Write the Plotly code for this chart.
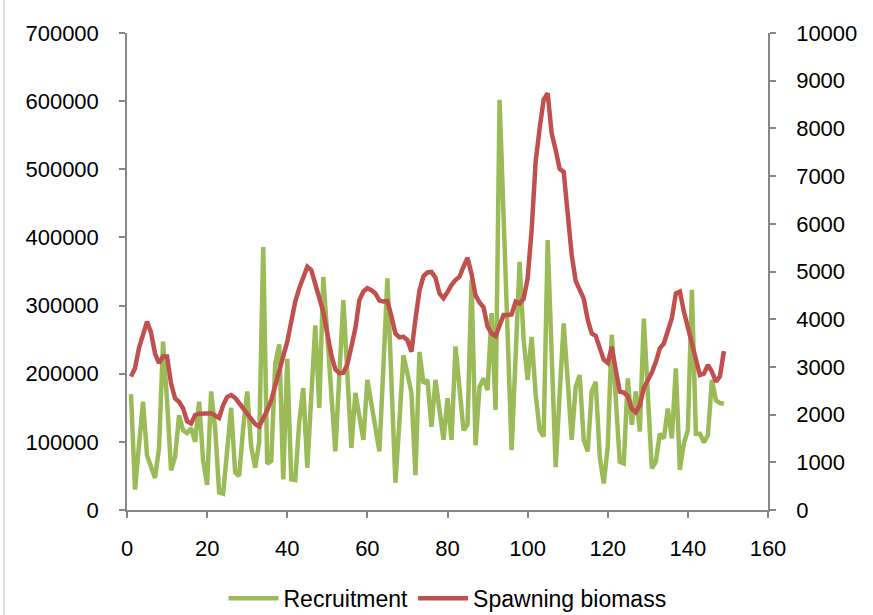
import plotly.graph_objects as go

years = list(range(1, 150))

recruitment = [
    170000, 30000, 95000, 159000, 80000, 62000, 47000, 91000, 247000, 160000,
    58000, 78000, 139000, 117000, 113000, 120000, 100000, 159000, 73000, 37000,
    174000, 120000, 26000, 24000, 90000, 150000, 55000, 50000, 120000, 174000,
    93000, 62000, 100000, 386000, 68000, 72000, 215000, 243000, 45000, 222000,
    45000, 44000, 130000, 179000, 62000, 165000, 271000, 150000, 342000, 256000,
    171000, 86000, 197000, 308000, 200000, 91000, 172000, 137000, 103000, 191000,
    157000, 122000, 86000, 210000, 340000, 190000, 40000, 130000, 227000, 200000,
    172000, 51000, 232000, 186000, 191000, 122000, 191000, 147000, 103000, 164000,
    103000, 240000, 180000, 117000, 125000, 337000, 95000, 181000, 193000, 176000,
    289000, 147000, 602000, 430000, 260000, 88000, 225000, 364000, 250000, 191000,
    254000, 170000, 117000, 108000, 396000, 230000, 63000, 170000, 274000, 190000,
    103000, 181000, 198000, 103000, 86000, 174000, 188000, 78000, 39000, 93000,
    257000, 164000, 71000, 68500, 193000, 125000, 174000, 115000, 281000, 170000,
    61000, 71000, 112000, 105000, 149000, 105000, 208000, 59000, 98000, 117000,
    323000, 112000, 112000, 99000, 110000, 191000, 161000, 157000, 156000,
]

spawning_biomass = [
    2800, 2970, 3400, 3700, 3950, 3720, 3280, 3080, 3220, 3220,
    2650, 2340, 2270, 2130, 1860, 1810, 1990, 2020, 2020, 2040,
    2030, 1980, 1930, 2200, 2370, 2410, 2350, 2240, 2130, 2010,
    1890, 1800, 1750, 1900, 2090, 2300, 2600, 2900, 3200, 3530,
    3950, 4370, 4650, 4850, 5100, 5030, 4750, 4400, 4150, 3700,
    3250, 2950, 2870, 2880, 3050, 3420, 3810, 4400, 4580, 4650,
    4610, 4540, 4390, 4370, 4380, 4060, 3700, 3620, 3630, 3560,
    3320, 4000, 4600, 4900, 4980, 4990, 4870, 4540, 4440, 4570,
    4720, 4820, 4890, 5100, 5290, 4950, 4500, 4350, 4250, 3850,
    3700, 3650, 3880, 4090, 4090, 4100, 4370, 4330, 4430, 4850,
    5870, 7300, 8000, 8600, 8740, 7900, 7550, 7150, 7090, 6200,
    5350, 4800, 4600, 4430, 3990, 3700, 3650, 3420, 3150, 3080,
    3420, 2930, 2480, 2460, 2390, 2120, 2050, 2200, 2550, 2720,
    2880, 3100, 3390, 3490, 3740, 4020, 4540, 4580, 4160, 3840,
    3490, 3150, 2830, 2860, 3040, 2900, 2690, 2800, 3330,
]

FONT = "Liberation Sans, Arial, sans-serif"
AXIS_COLOR = "#868686"

fig = go.Figure()
fig.add_trace(go.Scatter(
    x=years, y=recruitment, name="Recruitment", mode="lines",
    line=dict(color="#9BBB59", width=4.5), yaxis="y",
))
fig.add_trace(go.Scatter(
    x=years, y=spawning_biomass, name="Spawning biomass", mode="lines",
    line=dict(color="#C0504D", width=4.5), yaxis="y2",
))

axis_common = dict(
    showline=True, linecolor=AXIS_COLOR, linewidth=1.5,
    ticks="outside", ticklen=6, tickcolor=AXIS_COLOR, tickwidth=1.5,
    showgrid=False, zeroline=False, automargin=False,
    tickfont=dict(family=FONT, size=22, color="#000000"),
)

fig.update_layout(
    width=873, height=615,
    margin=dict(l=127, r=105, t=33, b=105, autoexpand=False),
    paper_bgcolor="white", plot_bgcolor="white",
    font=dict(family=FONT, size=22, color="#000000"),
    xaxis=dict(range=[0, 160], dtick=20, tick0=0, ticklabelstandoff=12, **axis_common),
    yaxis=dict(range=[0, 700000], dtick=100000, tick0=0, ticklabelstandoff=16,
               tickformat="d", **axis_common),
    yaxis2=dict(range=[0, 10000], dtick=1000, tick0=0, overlaying="y", side="right",
                ticklabelstandoff=16, tickformat="d", **axis_common),
    legend=dict(orientation="h", x=0.5, xanchor="center", y=-0.185, yanchor="middle",
                font=dict(family=FONT, size=23), itemwidth=50, tracegroupgap=0),
    shapes=[
        dict(type="line", xref="paper", yref="paper",
             x0=-123/641, x1=-123/641, y0=-105/477, y1=(477+33)/477,
             line=dict(color="#BFBFBF", width=1)),
    ],
)

fig.write_html("out.html", config={"displayModeBar": False},
               post_script="document.body.style.margin='0';")
